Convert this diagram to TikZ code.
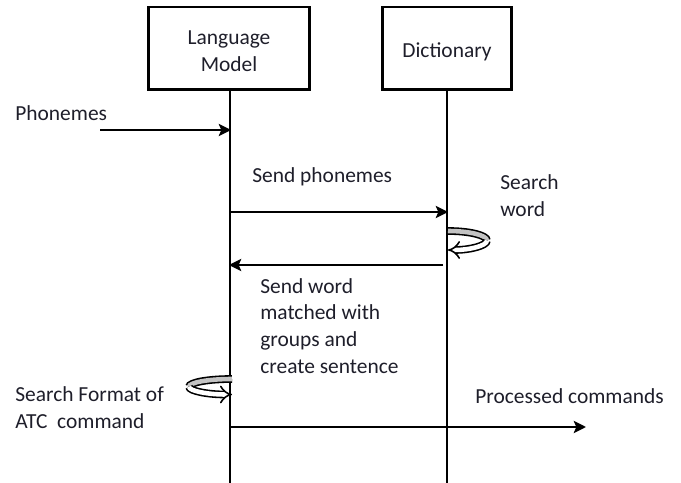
\documentclass[tikz,border=0pt]{standalone}
\usepackage{fontspec}
\setmainfont{Carlito}
\usetikzlibrary{positioning,arrows.meta}
\definecolor{textColor}{RGB}{30,30,42}
\definecolor{loopGray}{RGB}{195,195,195}
\tikzstyle{diagram} = [x = 0.02cm, y = -0.02cm, font=\fontsize{12.2pt}{15.3pt}\selectfont]
\tikzstyle{objectBox} = [draw, line width=1.7pt, minimum width=3.24cm, minimum height=1.66cm]
\tikzstyle{boxText} = [align=center, text=textColor, yshift=-0.06cm]
\tikzstyle{lifeLine} = [line width=0.6pt]
\tikzstyle{message} = [line width=1.1pt, -{Stealth[length=7pt, width=7pt, inset=1.5pt]}]
\tikzstyle{msgText} = [anchor=west, align=left, inner sep=0pt, text=textColor]
\tikzstyle{loopBack} = [line width=0.9pt, double=loopGray, double distance=2.6pt]
\tikzstyle{loopFront} = [line width=0.9pt, double=white, double distance=2.6pt, -{Implies[length=5pt]}]
% self call drawn as a curled band: #1 start point, #2 sweep sign, #3 x radius, #4 y radius
\newcommand{\selfLoop}[4]{
  \draw [loopBack] (#1) arc [start angle=90, delta angle=#2 90, x radius=#3, y radius=#4];
  \draw [loopFront] ([yshift=-#4]#1) ++ (#2 -#3, 0) arc [start angle=90 #2 90, delta angle=#2 90, x radius=#3, y radius=#4];
}

\begin{document}
\begin{tikzpicture}[diagram]
  \useasboundingbox (0,0) rectangle (681,483);

  % objects
  \node [objectBox, label={[boxText]center:Language\\Model}] (lm) at (229,48.5) {};
  \node [objectBox, minimum width=2.6cm, label={[boxText]center:Dictionary}] (dict) at (447,48.5) {};

  % lifelines
  \coordinate (lmEnd) at (230,483);
  \coordinate (dictEnd) at (447,483);
  \draw [lifeLine] (lm.south -| lmEnd) -- (lmEnd);
  \draw [lifeLine] (dict.south -| dictEnd) -- (dictEnd);

  % messages
  \coordinate (phonIn) at (100,130);
  \coordinate (lmPhon) at (231,130);
  \draw [message] (phonIn) -- (lmPhon);
  \node [msgText] (phonText) at (15,113) {Phonemes};

  \coordinate (lmSend) at (230,212);
  \coordinate (dictSend) at (448,212);
  \draw [message] (lmSend) -- (dictSend);
  \node [msgText] (sendText) at (252,177) {Send phonemes};

  \coordinate (dictLoop) at (448,231);
  \selfLoop{dictLoop}{-}{0.78cm}{0.19cm}
  \node [msgText] (searchText) at (500,196) {Search\\word};

  \coordinate (dictBack) at (443,265);
  \coordinate (lmBack) at (229,265);
  \draw [message] (dictBack) -- (lmBack);
  \node [msgText] (matchText) at (260,326) {Send word\\matched with\\groups and\\create sentence};

  \coordinate (lmLoop) at (232,379);
  \selfLoop{lmLoop}{+}{0.86cm}{0.155cm}
  \node [msgText] (formatText) at (15,408) {Search Format of\\ATC~~command};

  \coordinate (lmOut) at (230,427);
  \coordinate (cmdOut) at (586,427);
  \draw [message] (lmOut) -- (cmdOut);
  \node [msgText] (cmdText) at (475,396) {Processed commands};
\end{tikzpicture}
\end{document}
